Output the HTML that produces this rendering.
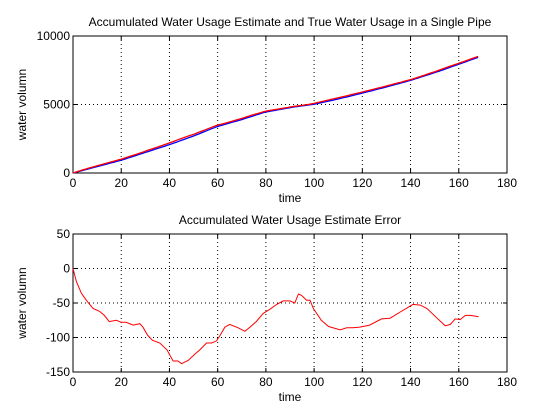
<!DOCTYPE html>
<html><head><meta charset="utf-8"><style>
body{margin:0;background:#fff;}
svg{display:block;font-family:"Liberation Sans",sans-serif;font-size:12px;}
</style></head><body>
<svg id="c" width="560" height="420"></svg>
<script>
const xTicks=[0,20,40,60,80,100,120,140,160,180];
const topYTicks=[0,5000,10000];
const botYTicks=[50,0,-50,-100,-150];
const trueT=[0,20,40,50,59.5,70,79.6,91,100,110,120,130,140,152,168];
const trueV=[0,930,2070,2700,3370,3900,4440,4800,5020,5400,5830,6280,6760,7440,8440];
const errT=[0,1.4,3.5,5.5,8.3,11,13,15,18,20,22,25,27.7,29,31,33,36,39,41.5,43.6,45,47.8,50.5,52.6,55.4,57.5,59.5,61,63,65,68.5,71.3,73.4,76,78.9,81.7,84.5,87.2,90,92,93.5,94.8,96.9,98.3,99.7,103,106,110.8,113.5,116,119,123,128,131.5,135.7,141,144,146.8,151,154.4,156.5,158.5,160.6,162.7,164.8,166.8,168.2];
const errV=[0,-19,-36,-46,-58,-62,-68,-77,-75,-78,-78,-82,-80,-85,-97,-104,-108,-118,-134,-134,-138,-133,-124,-118,-108,-108,-105,-97,-85,-81,-86,-91,-85,-77,-65,-59,-52,-47,-47,-50,-37,-39,-46,-46,-58,-75,-84,-89,-86,-86,-85,-82,-73,-72,-63,-52,-53,-58,-72,-83,-81,-73,-74,-68,-68,-69,-70];
const NS="http://www.w3.org/2000/svg";
const svg=document.getElementById('c');
function mk(t,a,p){const e=document.createElementNS(NS,t);for(const k in a)e.setAttribute(k,a[k]);(p||svg).appendChild(e);return e;}
const L=73,R=507;
function sx(t){return L+(t-0)/180*(R-L);}
function interp(xs,ys,x){for(let i=1;i<xs.length;i++){if(x<=xs[i]){const f=(x-xs[i-1])/(xs[i]-xs[i-1]);return ys[i-1]+f*(ys[i]-ys[i-1]);}}return ys[ys.length-1];}
function axes(top,bot,ymin,ymax,yt,title,name){
  const g=mk('g',{});
  
  
  const sy=v=>bot-(v-ymin)/(ymax-ymin)*(bot-top);
  xTicks.forEach(t=>{const x=sx(t);
    if(t>0&&t<180){const gl=mk('line',{x1:x,x2:x,y1:top,y2:bot,stroke:'#000','stroke-dasharray':'1,3','stroke-width':1},g);}
    mk('line',{x1:x,x2:x,y1:bot,y2:bot-4,stroke:'#000'},g);mk('line',{x1:x,x2:x,y1:top,y2:top+4,stroke:'#000'},g);
    const tx=mk('text',{x:x,y:bot+14,'text-anchor':'middle'},g);tx.textContent=t;});
  yt.forEach(v=>{const y=sy(v);
    if(v>ymin&&v<ymax){const gl=mk('line',{x1:L,x2:R,y1:y,y2:y,stroke:'#000','stroke-dasharray':'1,3'},g);}
    mk('line',{x1:L,x2:L+4,y1:y,y2:y,stroke:'#000'},g);mk('line',{x1:R,x2:R-4,y1:y,y2:y,stroke:'#000'},g);
    const tx=mk('text',{x:L-3,y:y+4,'text-anchor':'end'},g);tx.textContent=v;});
  const b=mk('rect',{x:L,y:top,width:R-L,height:bot-top,fill:'none',stroke:'#000'},g);
  
  const ti=mk('text',{x:(L+R)/2,y:top-10,'text-anchor':'middle'},g);ti.textContent=title;
  
  const xl=mk('text',{x:(L+R)/2,y:bot+29,'text-anchor':'middle'},g);xl.textContent='time';
  
  const cy=(top+bot)/2;
  const yl=mk('text',{x:26,y:cy,'text-anchor':'middle',transform:'rotate(-90 26 '+cy+')'},g);yl.textContent='water volumn';
  
  return sy;
}
const sy1=axes(36,173,0,10000,topYTicks,'Accumulated Water Usage Estimate and True Water Usage in a Single Pipe','top-axes');
const sy2=axes(234,372,-150,50,botYTicks,'Accumulated Water Usage Estimate Error','bottom-axes');
let pb='',pr='';
for(let t=0;t<=168;t+=1){const tv=interp(trueT,trueV,t),ev=interp(errT,errV,t);
  pb+=(t?'L':'M')+sx(t).toFixed(1)+','+sy1(tv).toFixed(1);
  pr+=(t?'L':'M')+sx(t).toFixed(1)+','+sy1(tv-ev).toFixed(1);}
const lb=mk('path',{d:pb,fill:'none',stroke:'#0000ff','stroke-width':1.3});

const lr=mk('path',{d:pr,fill:'none',stroke:'#ff0000','stroke-width':1.3});

let pe='';errT.forEach((t,i)=>{pe+=(i?'L':'M')+sx(t).toFixed(1)+','+sy2(errV[i]).toFixed(1);});
const le=mk('path',{d:pe,fill:'none',stroke:'#ff0000','stroke-width':1});

</script>
</body></html>
